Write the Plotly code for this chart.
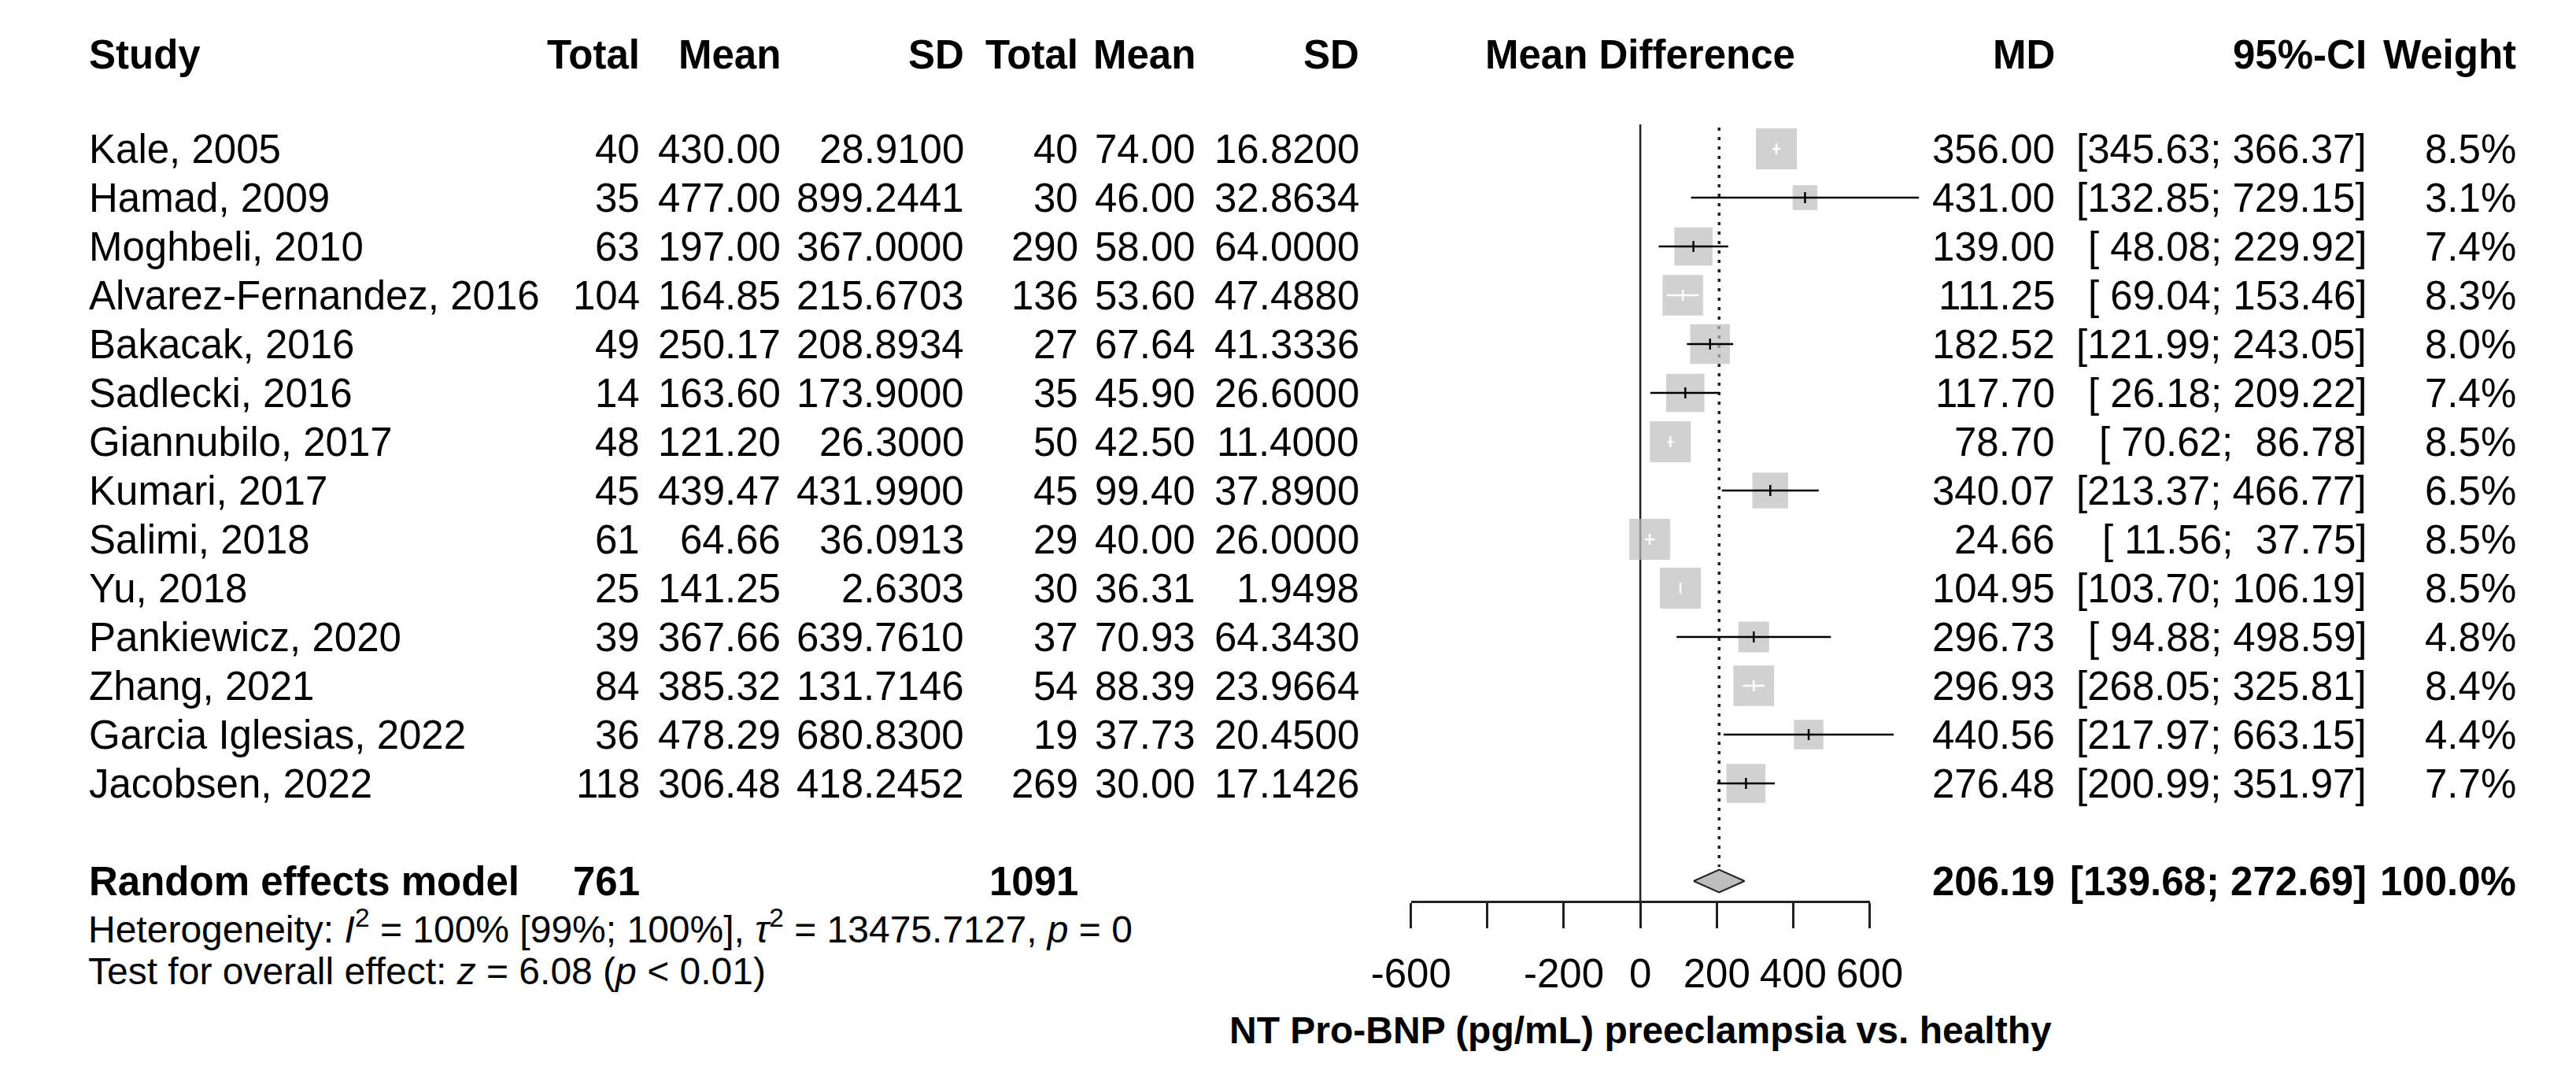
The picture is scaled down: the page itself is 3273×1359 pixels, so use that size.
import plotly.graph_objects as go

# figure size (px)
W, H = 3273, 1359

# study data
studies = [
    "Kale, 2005", "Hamad, 2009", "Moghbeli, 2010", "Alvarez-Fernandez, 2016",
    "Bakacak, 2016", "Sadlecki, 2016", "Giannubilo, 2017", "Kumari, 2017",
    "Salimi, 2018", "Yu, 2018", "Pankiewicz, 2020", "Zhang, 2021",
    "Garcia Iglesias, 2022", "Jacobsen, 2022",
]
n_pe = [40, 35, 63, 104, 49, 14, 48, 45, 61, 25, 39, 84, 36, 118]
mean_pe = [430.00, 477.00, 197.00, 164.85, 250.17, 163.60, 121.20, 439.47,
           64.66, 141.25, 367.66, 385.32, 478.29, 306.48]
sd_pe = [28.9100, 899.2441, 367.0000, 215.6703, 208.8934, 173.9000, 26.3000,
         431.9900, 36.0913, 2.6303, 639.7610, 131.7146, 680.8300, 418.2452]
n_h = [40, 30, 290, 136, 27, 35, 50, 45, 29, 30, 37, 54, 19, 269]
mean_h = [74.00, 46.00, 58.00, 53.60, 67.64, 45.90, 42.50, 99.40, 40.00,
          36.31, 70.93, 88.39, 37.73, 30.00]
sd_h = [16.8200, 32.8634, 64.0000, 47.4880, 41.3336, 26.6000, 11.4000,
        37.8900, 26.0000, 1.9498, 64.3430, 23.9664, 20.4500, 17.1426]
md = [356.00, 431.00, 139.00, 111.25, 182.52, 117.70, 78.70, 340.07, 24.66,
      104.95, 296.73, 296.93, 440.56, 276.48]
ci_lo = [345.63, 132.85, 48.08, 69.04, 121.99, 26.18, 70.62, 213.37, 11.56,
         103.70, 94.88, 268.05, 217.97, 200.99]
ci_hi = [366.37, 729.15, 229.92, 153.46, 243.05, 209.22, 86.78, 466.77, 37.75,
         106.19, 498.59, 325.81, 663.15, 351.97]
weight = [8.5, 3.1, 7.4, 8.3, 8.0, 7.4, 8.5, 6.5, 8.5, 8.5, 4.8, 8.4, 4.4, 7.7]

# pooled (random effects) result
total_pe = 761
total_h = 1091
pooled_md = 206.19
pooled_lo = 139.68
pooled_hi = 272.69

headers = ["Study", "Total", "Mean", "SD", "Total", "Mean", "SD",
           "Mean Difference", "MD", "95%-CI", "Weight"]
x_tick_labels = [-600, -200, 0, 200, 400, 600]
x_unlabelled_ticks = [-400]
x_title = "NT Pro-BNP (pg/mL) preeclampsia vs. healthy"
heterogeneity = ("Heterogeneity: <i>I</i><sup>2</sup> = 100% [99%; 100%], "
                 "<i>\u03c4</i><sup>2</sup> = 13475.7127, <i>p</i> = 0")
overall = "Test for overall effect: <i>z</i> = 6.08 (<i>p</i> &lt; 0.01)"

# layout helpers (pixel positions)
FONT = "Liberation Sans, Arial, sans-serif"
ROW0, ROW_H = 181, 62          # centre of first study row, row pitch
PX_PER_UNIT = 0.5
X_ZERO = 2085                   # pixel of MD = 0
AXIS_Y = 1137                   # pixel row of the x axis line


def row_of(px):
    return (px - ROW0) / ROW_H


def xp(px):
    return px / W


# right edges of the text columns
col_right = [None, 778, 963, 1203, 1352, 1505, 1719, None, 2630, 3037, 3233]
STUDY_LEFT = 54

annotations = []


def add_text(text, x_px, y_row, anchor="right", size=51, bold=False, yanchor="middle"):
    if bold:
        text = f"<b>{text}</b>"
    annotations.append(dict(
        text=text, x=xp(x_px), y=y_row, xref="paper", yref="y",
        xanchor=anchor, yanchor=yanchor, showarrow=False,
        font=dict(family=FONT, size=size, color="black"),
    ))


# header row
hdr_row = row_of(61)
for i, h in enumerate(headers):
    if i == 0:
        add_text(h, STUDY_LEFT, hdr_row, anchor="left", bold=True)
    elif i == 7:
        add_text(h, X_ZERO, hdr_row, anchor="center", bold=True)
    else:
        add_text(h, col_right[i], hdr_row, bold=True)

# study rows
for k in range(len(studies)):
    cells = [
        f"{n_pe[k]}", f"{mean_pe[k]:.2f}", f"{sd_pe[k]:.4f}",
        f"{n_h[k]}", f"{mean_h[k]:.2f}", f"{sd_h[k]:.4f}",
        None,
        f"{md[k]:.2f}", f"[{ci_lo[k]:6.2f}; {ci_hi[k]:6.2f}]", f"{weight[k]:.1f}%",
    ]
    add_text(studies[k], STUDY_LEFT, k, anchor="left")
    for j, c in enumerate(cells, start=1):
        if c is not None:
            add_text(c, col_right[j], k)

# pooled row
pooled_row = len(studies) + 1
add_text("Random effects model", STUDY_LEFT, pooled_row, anchor="left", bold=True)
add_text(f"{total_pe}", col_right[1], pooled_row, bold=True)
add_text(f"{total_h}", col_right[4], pooled_row, bold=True)
add_text(f"{pooled_md:.2f}", col_right[8], pooled_row, bold=True)
add_text(f"[{pooled_lo:.2f}; {pooled_hi:.2f}]", col_right[9], pooled_row, bold=True)
add_text(f"{sum(weight):.1f}%", col_right[10], pooled_row, bold=True)

# heterogeneity / overall effect lines
add_text(heterogeneity, STUDY_LEFT - 2, row_of(1201), anchor="left", size=48, yanchor="bottom")
add_text(overall, STUDY_LEFT - 2, row_of(1254), anchor="left", size=48, yanchor="bottom")

# axis title
add_text(x_title, X_ZERO, row_of(1300), anchor="center", size=48, bold=True)

# ---- graphical part ----
fig = go.Figure()

# reference line at 0 and dotted line at pooled estimate
fig.add_trace(go.Scatter(
    x=[0, 0], y=[row_of(150), row_of(AXIS_Y)], mode="lines",
    line=dict(color="#222222", width=2.5), xaxis="x", yaxis="y",
))
fig.add_trace(go.Scatter(
    x=[pooled_md, pooled_md], y=[row_of(154), row_of(1093)], mode="lines",
    line=dict(color="#222222", width=3.5, dash="4px,8px"), xaxis="x", yaxis="y",
))

# squares (side proportional to sqrt(weight))
side = [52 / 8.5 ** 0.5 * w ** 0.5 for w in weight]
rows = list(range(len(studies)))
fig.add_trace(go.Scatter(
    x=md, y=rows, mode="markers",
    marker=dict(symbol="square", size=side, color="#BEBEBE", line=dict(width=0)),
    xaxis="x2", yaxis="y", cliponaxis=False,
))

# confidence intervals: white when they fit inside the square
tick_half = 7 / ROW_H
lines = {"black": ([], []), "white": ([], [])}
for k in rows:
    col = "white" if (ci_hi[k] - ci_lo[k]) * PX_PER_UNIT < side[k] else "black"
    xs, ys = lines[col]
    xs += [ci_lo[k], ci_hi[k], None, md[k], md[k], None]
    ys += [k, k, None, k - tick_half, k + tick_half, None]
for col, (xs, ys) in lines.items():
    fig.add_trace(go.Scatter(
        x=xs, y=ys, mode="lines", line=dict(color=col, width=2.5),
        xaxis="x2", yaxis="y",
    ))

# pooled diamond
dh = 14.5 / ROW_H
fig.add_trace(go.Scatter(
    x=[pooled_lo, pooled_md, pooled_hi, pooled_md, pooled_lo],
    y=[pooled_row, pooled_row - dh, pooled_row, pooled_row + dh, pooled_row],
    mode="lines", fill="toself", fillcolor="#BEBEBE",
    line=dict(color="#222222", width=2), xaxis="x", yaxis="y",
))

half_span = 300 / PX_PER_UNIT
fig.update_layout(
    width=W, height=H,
    margin=dict(l=0, r=0, t=0, b=0, pad=0),
    paper_bgcolor="white", plot_bgcolor="rgba(0,0,0,0)",
    showlegend=False,
    font=dict(family=FONT, size=51, color="black"),
    annotations=annotations,
    xaxis=dict(
        domain=[xp(X_ZERO - 300), xp(X_ZERO + 300)],
        range=[-half_span, half_span],
        anchor="free", position=1 - AXIS_Y / H,
        showline=True, linewidth=2.5, linecolor="#222222",
        ticks="outside", ticklen=32, tickwidth=2.5, tickcolor="#222222",
        tickvals=x_tick_labels, ticktext=[str(v) for v in x_tick_labels],
        minor=dict(tickvals=x_unlabelled_ticks, ticks="outside", ticklen=32,
                   tickwidth=2.5, tickcolor="#222222", showgrid=False),
        tickfont=dict(family=FONT, size=51, color="black"),
        ticklabelstandoff=14,
        showgrid=False, zeroline=False, fixedrange=True,
    ),
    xaxis2=dict(
        domain=[xp(X_ZERO - 600), xp(X_ZERO + 600)],
        range=[-2 * half_span, 2 * half_span],
        anchor="y", visible=False, fixedrange=True,
    ),
    yaxis=dict(
        domain=[0, 1], range=[row_of(H), row_of(0)],
        visible=False, fixedrange=True,
    ),
)

fig.write_html("out.html", config={"displayModeBar": False})
